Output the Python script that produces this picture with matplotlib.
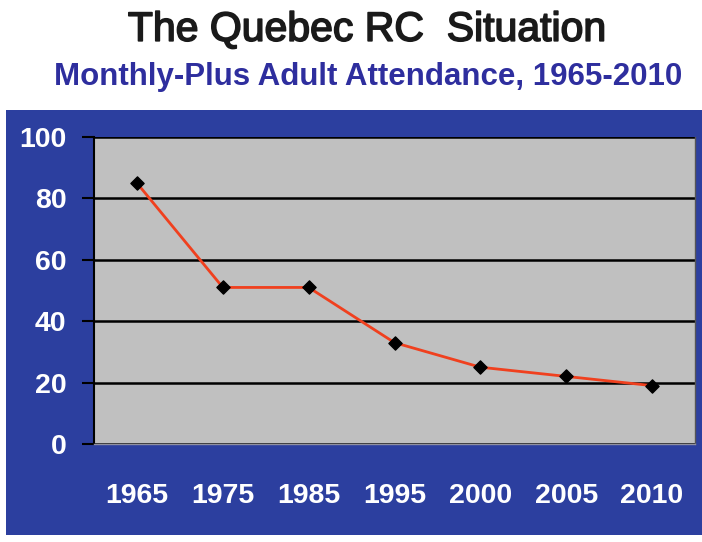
import matplotlib.pyplot as plt
import matplotlib.patheffects as pe
from matplotlib.patches import Rectangle

years = ["1965", "1975", "1985", "1995", "2000", "2005", "2010"]
attendance = [85, 51, 51, 33, 25, 22, 19]
y_ticks = [0, 20, 40, 60, 80, 100]

plt.rcParams['font.family'] = ['Liberation Sans', 'DejaVu Sans']

fig = plt.figure(figsize=(7.02, 5.42), dpi=100)
fig.patch.set_facecolor("white")

# blue panel behind the chart
fig.add_artist(Rectangle((0.0085, 0.013), 0.992, 0.784, transform=fig.transFigure,
                         facecolor="#2c3f9f", edgecolor="none", zorder=-10))

fig.text(0.523, 0.945, "The Quebec RC  Situation", ha="center", va="center",
         fontsize=29.5, color="#1a1a1a",
         path_effects=[pe.withStroke(linewidth=1.2, foreground="#1a1a1a")])
fig.text(0.524, 0.858, "Monthly-Plus Adult Attendance, 1965-2010", ha="center", va="center",
         fontsize=22.5, fontweight="bold", color="#2e2e9e")

ax = fig.add_axes([0.134, 0.181, 0.856, 0.566])
ax.set_facecolor("#c0c0c0")
x = range(len(years))
ax.plot(x, attendance, color="#f0401e", lw=2, zorder=3)
ax.scatter(x, attendance, marker="D", s=45, color="black", zorder=4)

ax.set_xlim(-0.5, len(years) - 0.5)
ax.set_ylim(0, 100)
ax.set_yticks(y_ticks)
ax.set_yticklabels([str(v) for v in y_ticks])
ax.set_xticks(list(x))
ax.set_xticklabels(years)
ax.yaxis.grid(True, color="black", lw=1.8)
ax.set_axisbelow(True)

ax.tick_params(axis="y", colors="black", labelcolor="white", labelsize=20.5,
               length=9, width=1.5, pad=11)
ax.tick_params(axis="x", length=0, labelcolor="white", labelsize=20.5, pad=28)
for lab in ax.get_xticklabels() + ax.get_yticklabels():
    lab.set_fontweight("bold")

ax.spines["left"].set_color("black")
ax.spines["left"].set_linewidth(1.5)
ax.spines["top"].set_visible(False)
ax.spines["right"].set_color("#555555")
ax.spines["right"].set_linewidth(1)
ax.spines["bottom"].set_color("#9090a0")
ax.spines["bottom"].set_linewidth(1)

fig.savefig("out.png", dpi=100)
